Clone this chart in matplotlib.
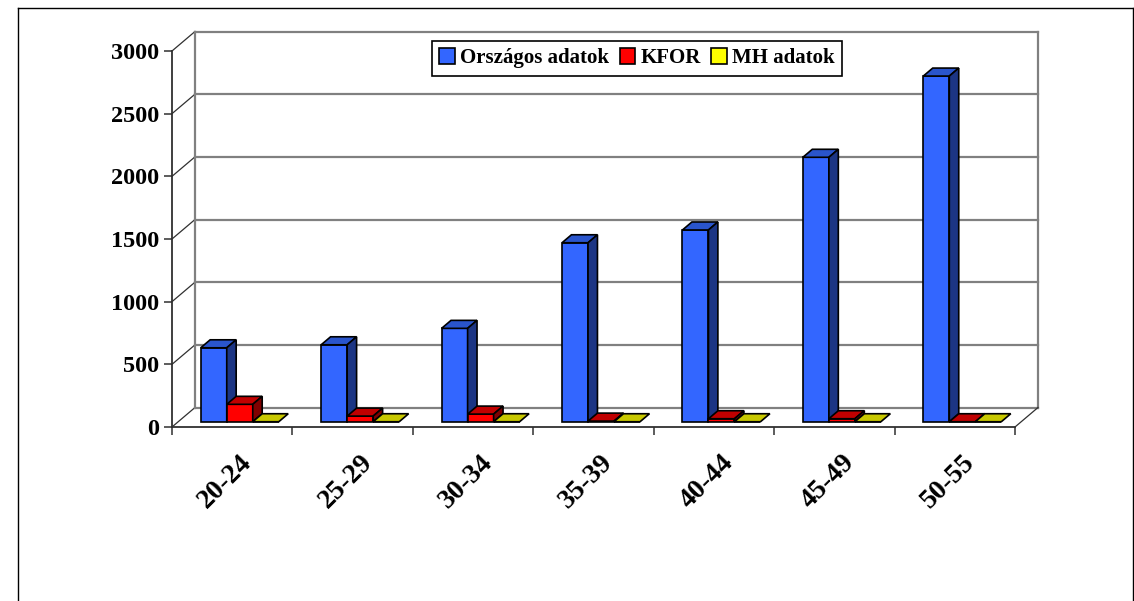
import matplotlib
matplotlib.use("Agg")
import matplotlib.pyplot as plt
from matplotlib.patches import Polygon, Patch
from matplotlib.lines import Line2D
from matplotlib.transforms import ScaledTranslation

# ---- data ----
categories = ["20-24", "25-29", "30-34", "35-39", "40-44", "45-49", "50-55"]
orszagos = [590, 614, 745, 1428, 1530, 2110, 2758]
kfor = [139, 45, 61, 5, 24, 24, 0]
mh = [0, 0, 0, 0, 0, 0, 0]
series_names = ["Országos adatok", "KFOR", "MH adatok"]
y_ticks = [0, 500, 1000, 1500, 2000, 2500, 3000]

W, H = 1134, 601
fig = plt.figure(figsize=(W / 100, H / 100), dpi=100)
fig.patch.set_facecolor("white")

# front plane geometry (pixels)
ax_l, ax_r, ax_b, ax_t = 172, 1015, 427, 51
ax = fig.add_axes([ax_l / W, (H - ax_b) / H, (ax_r - ax_l) / W, (ax_b - ax_t) / H])
ax.set_xlim(0, len(categories))
ax.set_ylim(0, 3000)
ax.patch.set_alpha(0)

px_x = (ax_r - ax_l) / len(categories)
px_y = (ax_b - ax_t) / 3000.0
DX = 23 / px_x        # depth offset in data units (x)
DY = 19.5 / px_y      # depth offset in data units (y)


def P(x, v, d):
    return (x + d * DX, v + d * DY)


grid_c = "#808080"
axis_c = "#303030"
ncat = len(categories)

# back wall gridlines and left wall diagonals
for v in y_ticks:
    ax.plot(*zip(P(0, v, 1), P(ncat, v, 1)), color=grid_c, lw=1.6, clip_on=False, zorder=1)
    ax.plot(*zip(P(0, v, 0), P(0, v, 1)), color=axis_c, lw=0.9, clip_on=False, zorder=1)
ax.plot(*zip(P(0, 0, 1), P(0, 3000, 1)), color=grid_c, lw=1.6, clip_on=False, zorder=1)
ax.plot(*zip(P(ncat, 0, 1), P(ncat, 3000, 1)), color=grid_c, lw=1.6, clip_on=False, zorder=1)
ax.plot(*zip(P(ncat, 0, 0), P(ncat, 0, 1)), color=axis_c, lw=0.9, clip_on=False, zorder=1)

# bars
colors = {
    0: ("#3366FF", "#2A55CC", "#1C3584"),
    1: ("#FF0000", "#C00000", "#800000"),
    2: ("#FFFF00", "#C8C800", "#808000"),
}
series = [orszagos, kfor, mh]
g0 = 0.187
bw = 0.216
d0, d1 = 0.27, 0.68
z = 5
for i in range(ncat):
    for k, vals in enumerate(series):
        v = vals[i]
        fc, tc, sc = colors[k]
        xl = i + g0 + k * bw
        xr = xl + bw
        fx, fy = P(xl, 0, d0)
        b = ax.bar([fx], [v], width=bw, bottom=fy, align="edge", color=fc,
                   edgecolor="black", linewidth=1.2, zorder=z, clip_on=False)
        top = Polygon([P(xl, v, d0), P(xr, v, d0), P(xr, v, d1), P(xl, v, d1)],
                      closed=True, facecolor=tc, edgecolor="black", lw=1.2,
                      zorder=z, clip_on=False, joinstyle="miter")
        ax.add_patch(top)
        if v > 0:
            side = Polygon([P(xr, 0, d0), P(xr, v, d0), P(xr, v, d1), P(xr, 0, d1)],
                           closed=True, facecolor=sc, edgecolor="black", lw=1.2,
                           zorder=z, clip_on=False, joinstyle="miter")
            ax.add_patch(side)
        z += 1

# axes styling
for s in ["top", "right"]:
    ax.spines[s].set_visible(False)
for s in ["left", "bottom"]:
    ax.spines[s].set_color(axis_c)
    ax.spines[s].set_linewidth(1.3)
ax.spines["left"].set_zorder(0.5)
ax.set_yticks(y_ticks)
ax.set_yticklabels([str(t) for t in y_ticks], fontfamily="Liberation Serif",
                   fontweight="bold", fontsize=17.5)
ax.tick_params(axis="y", direction="out", length=6, width=1.1, color=axis_c, pad=3)
ax.set_xticks(range(ncat + 1))
ax.set_xticklabels([])
ax.tick_params(axis="x", direction="out", length=6, width=1.1, color=axis_c)

lab_off = ScaledTranslation(16 / 100, -32 / 100, fig.dpi_scale_trans)
for i, c in enumerate(categories):
    ax.text(i + 0.5, 0, c, transform=ax.transData + lab_off, rotation=45,
            rotation_mode="anchor", ha="right", va="center",
            fontfamily="Liberation Serif", fontweight="bold", fontsize=20)

# legend
handles = [Patch(facecolor=colors[k][0], edgecolor="black", linewidth=1.2) for k in range(3)]
leg = fig.legend(handles, series_names, loc="upper left",
                 bbox_to_anchor=(432 / W, 1 - 41 / H), ncol=3,
                 prop={"family": "Liberation Serif", "weight": "bold", "size": 15},
                 handlelength=0.75, handleheight=0.75, handletextpad=0.25,
                 columnspacing=0.5, borderpad=0.35, borderaxespad=0,
                 frameon=True, fancybox=False, framealpha=1)
leg.get_frame().set_edgecolor("black")
leg.get_frame().set_linewidth(1.2)

# outer chart border
bx0, bx1, by0 = 18 / W, 1133 / W, 1 - 8 / H
fig.add_artist(Line2D([bx0, bx0], [0, by0], color="black", lw=1.0, transform=fig.transFigure))
fig.add_artist(Line2D([bx0, bx1], [by0, by0], color="black", lw=1.0, transform=fig.transFigure))
fig.add_artist(Line2D([bx1, bx1], [0, by0], color="black", lw=1.0, transform=fig.transFigure))

fig.savefig("out.png", dpi=100, facecolor="white")
